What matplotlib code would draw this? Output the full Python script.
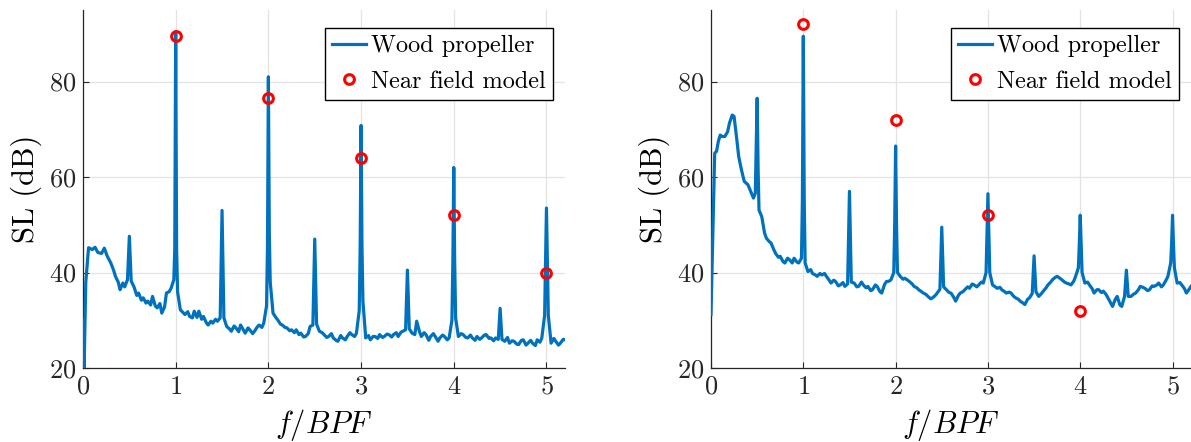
import numpy as np
import matplotlib as mpl
import matplotlib.pyplot as plt

mpl.rcParams['font.family'] = 'serif'
mpl.rcParams['font.serif'] = ['cmr10', 'DejaVu Serif']
mpl.rcParams['mathtext.fontset'] = 'cm'
mpl.rcParams['axes.formatter.use_mathtext'] = True
mpl.rcParams['axes.unicode_minus'] = False

# left panel spectrum (f/BPF, SL dB)
f_left = [0.0, 0.01, 0.03, 0.06, 0.1, 0.13, 0.16, 0.2, 0.23, 0.26, 0.3, 0.33, 0.35, 0.38, 0.4, 0.43,
          0.45, 0.48, 0.5, 0.52, 0.55, 0.58, 0.6, 0.63, 0.65, 0.68, 0.7, 0.73, 0.75, 0.78, 0.8, 0.83,
          0.85, 0.88, 0.9, 0.93, 0.95, 0.98, 0.99, 1.0, 1.01, 1.02, 1.05, 1.08, 1.1, 1.13, 1.15, 1.18,
          1.2, 1.23, 1.25, 1.28, 1.3, 1.33, 1.35, 1.38, 1.4, 1.43, 1.45, 1.48, 1.5, 1.52, 1.55, 1.58,
          1.6, 1.63, 1.65, 1.68, 1.7, 1.73, 1.75, 1.78, 1.8, 1.83, 1.85, 1.88, 1.9, 1.93, 1.95, 1.98,
          1.99, 2.0, 2.01, 2.02, 2.05, 2.08, 2.1, 2.13, 2.15, 2.18, 2.2, 2.23, 2.25, 2.28, 2.3, 2.33,
          2.35, 2.38, 2.4, 2.43, 2.45, 2.48, 2.5, 2.52, 2.55, 2.58, 2.6, 2.63, 2.65, 2.68, 2.7, 2.73,
          2.75, 2.78, 2.8, 2.83, 2.85, 2.88, 2.9, 2.93, 2.95, 2.98, 2.99, 3.0, 3.01, 3.02, 3.05, 3.08,
          3.1, 3.13, 3.15, 3.18, 3.2, 3.23, 3.25, 3.28, 3.3, 3.33, 3.35, 3.38, 3.4, 3.43, 3.45, 3.48,
          3.5, 3.52, 3.55, 3.58, 3.6, 3.63, 3.65, 3.68, 3.7, 3.73, 3.75, 3.78, 3.8, 3.83, 3.85, 3.88,
          3.9, 3.93, 3.95, 3.98, 3.99, 4.0, 4.01, 4.02, 4.05, 4.08, 4.1, 4.13, 4.15, 4.18, 4.2, 4.23,
          4.25, 4.28, 4.3, 4.33, 4.35, 4.38, 4.4, 4.43, 4.45, 4.48, 4.5, 4.52, 4.55, 4.58, 4.6, 4.63,
          4.65, 4.68, 4.7, 4.73, 4.75, 4.78, 4.8, 4.83, 4.85, 4.88, 4.9, 4.93, 4.95, 4.98, 4.99, 5.0,
          5.01, 5.02, 5.05, 5.08, 5.1, 5.13, 5.15, 5.18, 5.2]
sl_left = [30.0, 18.0, 38.0, 45.2, 44.8, 45.3, 44.2, 44.0, 45.1, 43.5, 42.0, 40.5, 39.2, 38.0, 36.4, 37.8,
           37.0, 38.5, 47.6, 38.2, 37.0, 35.2, 35.7, 34.2, 34.7, 33.6, 34.0, 33.2, 35.0, 33.0, 32.6, 33.5,
           31.5, 32.8, 35.7, 36.0, 36.7, 38.5, 45.0, 90.5, 45.0, 36.0, 32.2, 31.6, 31.2, 31.8, 30.8, 30.5,
           31.9, 30.6, 31.9, 30.2, 30.8, 29.5, 29.0, 29.8, 29.4, 30.2, 29.8, 30.5, 53.0, 30.5, 28.7, 28.2,
           27.7, 28.8, 28.4, 27.6, 29.0, 28.0, 27.3, 28.4, 28.0, 27.2, 27.7, 28.6, 29.0, 28.5, 29.4, 33.0,
           45.0, 81.0, 48.0, 38.0, 31.5, 30.6, 30.1, 29.2, 29.0, 28.5, 28.4, 27.8, 28.0, 27.4, 28.0, 27.0,
           27.3, 26.5, 26.6, 27.2, 28.7, 29.0, 47.0, 29.2, 27.7, 27.4, 27.0, 26.4, 26.6, 27.2, 26.3, 25.8,
           25.6, 26.8, 26.3, 25.9, 26.6, 27.4, 27.0, 26.6, 27.3, 32.0, 45.0, 70.8, 45.0, 34.0, 26.3, 26.8,
           25.9, 26.6, 26.6, 26.2, 27.0, 26.4, 26.6, 27.1, 27.0, 26.5, 27.0, 27.4, 26.6, 27.5, 27.7, 28.0,
           40.5, 28.2, 27.3, 27.0, 29.8, 27.6, 26.6, 27.4, 27.0, 25.8, 26.6, 27.2, 26.6, 25.6, 26.3, 26.9,
           26.6, 25.9, 26.3, 30.0, 42.0, 62.0, 42.0, 30.5, 26.6, 27.2, 27.0, 26.4, 26.3, 26.9, 26.3, 25.8,
           26.6, 26.0, 26.3, 26.9, 27.0, 26.2, 26.3, 25.7, 26.3, 26.0, 32.5, 26.0, 25.6, 26.4, 25.2, 25.7,
           25.6, 25.0, 24.9, 25.8, 25.9, 24.8, 25.2, 25.8, 25.2, 24.7, 25.9, 25.4, 26.3, 31.0, 42.0, 53.5,
           42.0, 31.0, 25.2, 26.2, 25.6, 24.8, 25.2, 26.0, 25.9]

# right panel spectrum
f_right = [0.0, 0.02, 0.04, 0.06, 0.08, 0.1, 0.12, 0.15, 0.18, 0.2, 0.23, 0.25, 0.28, 0.3, 0.33, 0.36,
           0.4, 0.43, 0.46, 0.48, 0.49, 0.5, 0.51, 0.52, 0.55, 0.58, 0.6, 0.63, 0.65, 0.68, 0.7, 0.73,
           0.75, 0.78, 0.8, 0.83, 0.85, 0.88, 0.9, 0.93, 0.95, 0.98, 0.99, 1.0, 1.01, 1.02, 1.05, 1.08,
           1.1, 1.13, 1.15, 1.18, 1.2, 1.23, 1.25, 1.28, 1.3, 1.33, 1.35, 1.38, 1.4, 1.43, 1.45, 1.48,
           1.5, 1.52, 1.55, 1.58, 1.6, 1.63, 1.65, 1.68, 1.7, 1.73, 1.75, 1.78, 1.8, 1.83, 1.85, 1.88,
           1.9, 1.93, 1.95, 1.98, 1.99, 2.0, 2.01, 2.02, 2.05, 2.08, 2.1, 2.13, 2.15, 2.18, 2.2, 2.23,
           2.25, 2.28, 2.3, 2.33, 2.35, 2.38, 2.4, 2.43, 2.45, 2.48, 2.5, 2.52, 2.55, 2.58, 2.6, 2.63,
           2.65, 2.68, 2.7, 2.73, 2.75, 2.78, 2.8, 2.83, 2.85, 2.88, 2.9, 2.93, 2.95, 2.98, 2.99, 3.0,
           3.01, 3.02, 3.05, 3.08, 3.1, 3.13, 3.15, 3.18, 3.2, 3.23, 3.25, 3.28, 3.3, 3.33, 3.35, 3.38,
           3.4, 3.43, 3.45, 3.48, 3.5, 3.52, 3.55, 3.58, 3.6, 3.63, 3.65, 3.68, 3.7, 3.73, 3.75, 3.78,
           3.8, 3.83, 3.85, 3.88, 3.9, 3.93, 3.95, 3.98, 3.99, 4.0, 4.01, 4.02, 4.05, 4.08, 4.1, 4.13,
           4.15, 4.18, 4.2, 4.23, 4.25, 4.28, 4.3, 4.33, 4.35, 4.38, 4.4, 4.43, 4.45, 4.48, 4.5, 4.52,
           4.55, 4.58, 4.6, 4.63, 4.65, 4.68, 4.7, 4.73, 4.75, 4.78, 4.8, 4.83, 4.85, 4.88, 4.9, 4.93,
           4.95, 4.98, 4.99, 5.0, 5.01, 5.02, 5.05, 5.08, 5.1, 5.13, 5.15, 5.18, 5.2]
sl_right = [31.2, 48.0, 65.0, 65.4, 67.5, 68.8, 68.5, 68.5, 69.5, 71.3, 73.0, 72.7, 67.8, 64.3, 61.5, 59.1,
            58.4, 57.0, 55.6, 56.6, 66.0, 76.5, 62.0, 53.1, 51.7, 48.3, 47.2, 46.5, 46.2, 44.8, 44.0, 43.2,
            43.4, 42.3, 42.0, 43.0, 42.7, 42.0, 43.0, 42.2, 42.0, 43.0, 55.0, 89.5, 55.0, 42.0, 40.2, 40.6,
            39.8, 39.5, 39.2, 39.8, 39.5, 39.8, 39.2, 38.4, 37.8, 38.4, 38.1, 37.2, 37.4, 37.9, 37.1, 37.6,
            57.0, 38.0, 37.8, 37.0, 37.1, 38.0, 37.4, 36.8, 37.1, 36.2, 36.4, 37.4, 37.1, 36.0, 35.7, 37.5,
            38.1, 38.2, 38.5, 40.0, 50.0, 66.5, 50.0, 40.0, 39.2, 38.6, 38.8, 38.4, 38.1, 37.6, 37.1, 36.8,
            36.4, 36.0, 35.7, 35.4, 35.0, 34.5, 34.7, 35.2, 35.7, 36.5, 49.5, 37.0, 36.4, 35.8, 35.7, 34.8,
            34.0, 35.2, 35.7, 36.0, 36.4, 37.0, 36.7, 37.6, 37.4, 37.0, 37.4, 38.0, 37.8, 40.0, 48.0, 56.5,
            48.0, 40.0, 37.4, 37.0, 36.7, 36.9, 36.4, 36.0, 35.7, 35.9, 35.7, 35.0, 34.7, 34.4, 34.0, 33.6,
            33.3, 34.4, 34.7, 35.6, 43.5, 36.0, 35.0, 35.6, 36.1, 36.8, 37.4, 38.0, 38.5, 39.0, 39.2, 38.8,
            38.5, 38.0, 37.8, 37.6, 37.4, 38.2, 39.2, 41.0, 46.0, 52.0, 46.0, 40.0, 37.8, 38.0, 37.4, 36.6,
            35.7, 36.4, 36.4, 35.8, 36.1, 35.4, 34.7, 33.6, 32.9, 34.4, 35.0, 33.2, 32.9, 35.0, 40.5, 35.0,
            35.0, 35.5, 35.7, 36.4, 37.1, 36.9, 36.7, 36.2, 36.4, 37.2, 37.1, 37.4, 37.8, 37.0, 37.4, 38.4,
            39.2, 42.0, 46.0, 52.0, 46.0, 41.0, 37.8, 37.9, 37.4, 36.6, 35.7, 36.5, 37.1]

# near field model points
nf_left_f = [1, 2, 3, 4, 5]
nf_left_sl = [89.5, 76.5, 64.0, 52.0, 40.0]
nf_right_f = [1, 2, 3, 4]
nf_right_sl = [92.0, 72.0, 52.0, 32.0]

blue = '#0072BD'

fig = plt.figure(figsize=(11.91, 4.42), dpi=100)
ax1 = fig.add_axes([83/1191, 1-368/442, 482/1191, 358/442])
ax2 = fig.add_axes([711/1191, 1-368/442, 480/1191, 358/442])

panels = [(ax1, f_left, sl_left, nf_left_f, nf_left_sl),
          (ax2, f_right, sl_right, nf_right_f, nf_right_sl)]

for ax, f, sl, nf, nsl in panels:
    ax.plot(f, sl, color=blue, lw=2.3, label='Wood propeller', zorder=3)
    ax.plot(nf, nsl, linestyle='none', marker='o', markersize=7, mew=2.2,
            mfc='none', mec='red', label='Near field model', zorder=4)
    ax.set_xlim(0, 5.2)
    ax.set_ylim(20, 95)
    ax.set_xticks([0, 1, 2, 3, 4, 5])
    ax.set_yticks([20, 40, 60, 80])
    ax.grid(True, color='#e3e3e3', lw=0.9)
    ax.set_axisbelow(True)
    for s in ['top', 'right']:
        ax.spines[s].set_visible(False)
    for s in ['left', 'bottom']:
        ax.spines[s].set_color('#262626')
        ax.spines[s].set_linewidth(0.9)
    ax.tick_params(direction='in', length=4, labelsize=19, colors='#262626', pad=5)
    ax.set_xlabel(r'$f/BPF$', fontsize=22, labelpad=6)
    ax.set_ylabel('SL (dB)', fontsize=22, labelpad=5)
    leg = ax.legend(loc='upper right', bbox_to_anchor=(0.975, 0.95), borderaxespad=0,
                    fontsize=17.5, fancybox=False, framealpha=1, edgecolor='k',
                    handlelength=1.4, handletextpad=0.2, borderpad=0.3, labelspacing=0.55)
    leg.get_frame().set_linewidth(1.0)

plt.savefig('out.png', dpi=100)
